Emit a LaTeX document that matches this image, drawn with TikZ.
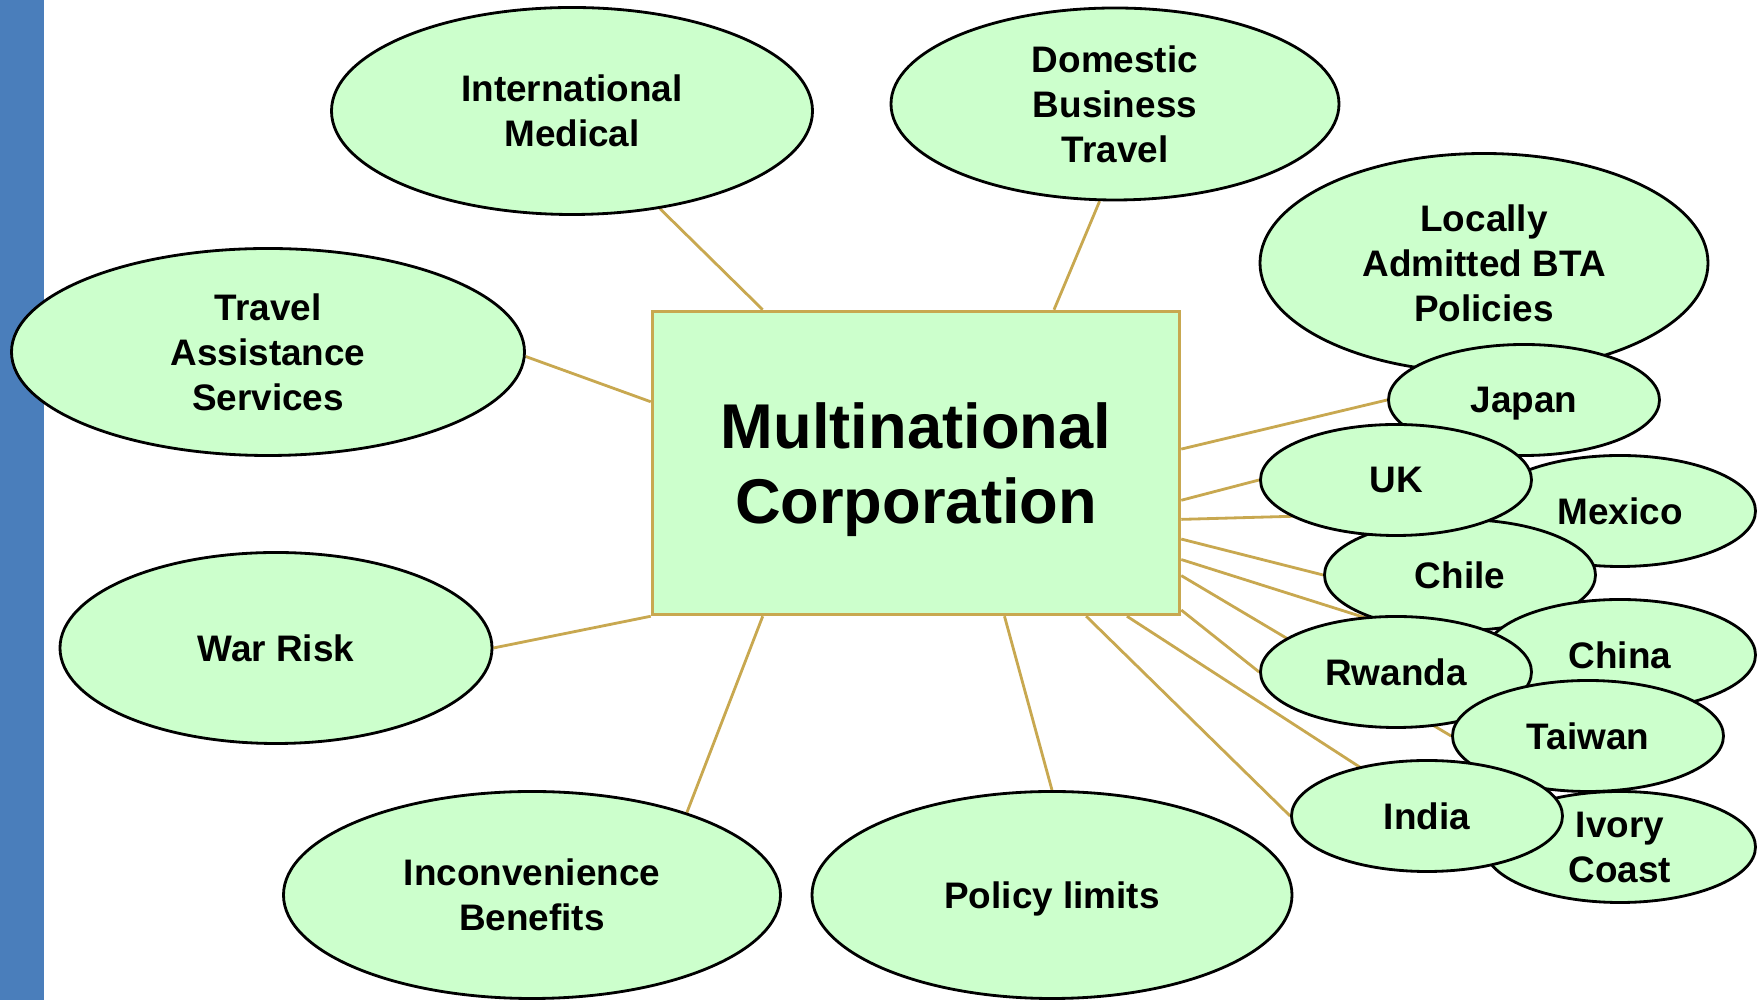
\documentclass[tikz,border=0pt]{standalone}
\usepackage{fontspec}
\setmainfont{Liberation Sans}
\usepackage{xcolor}
\usetikzlibrary{shapes,arrows,positioning,backgrounds}
\definecolor{leaf}{RGB}{204,255,204}
\definecolor{linktan}{RGB}{200,168,80}
\definecolor{barblue}{RGB}{74,126,187}
\tikzstyle{rec} = [ rectangle, minimum width=5.27cm, minimum height=3.03cm, align=center, text depth=0pt, draw=linktan, fill=leaf, line width=1pt, font=\fontsize{18}{21.5}\selectfont\bfseries]
\tikzstyle{bub} = [ ellipse, draw=black, fill=leaf, align=center, text depth=0pt, inner sep=0pt, line width=0.8pt, font=\fontsize{10.5}{12.8}\selectfont\bfseries]
\tikzstyle{cty} = [ bub, minimum width=2.71cm, minimum height=1.11cm]

\begin{document}
\begin{tikzpicture}[link/.style={draw=linktan, line width=0.8pt}]
          \useasboundingbox (0,0) rectangle (17.63,-10);
          \fill[barblue] (0,0) rectangle (0.44,-10);
          % outer ring
          \node (Locally) [bub, minimum width=4.48cm, minimum height=2.19cm] at (14.84,-2.63) {Locally\\Admitted BTA\\Policies};
          \node (IntMed) [bub, minimum width=4.81cm, minimum height=2.07cm] at (5.72,-1.11) {International\\Medical};
          \node (Domestic) [bub, minimum width=4.48cm, minimum height=1.92cm] at (11.15,-1.04) {Domestic\\Business\\Travel};
          \node (Travel) [bub, minimum width=5.13cm, minimum height=2.07cm] at (2.68,-3.52) {Travel\\Assistance\\Services};
          \node (War) [bub, minimum width=4.32cm, minimum height=1.91cm] at (2.76,-6.48) {War Risk};
          \node (Inconv) [bub, minimum width=4.97cm, minimum height=2.07cm] at (5.32,-8.95) {Inconvenience\\Benefits};
          \node (Policy) [bub, minimum width=4.80cm, minimum height=2.07cm] at (10.52,-8.95) {Policy limits};
          \node (Corp) [rec] at (9.16,-4.63) {Multinational\\Corporation};
          % countries
          \node (Japan) [cty] at (15.24,-4.00) {Japan};
          \node (Mexico) [cty] at (16.20,-5.11) {Mexico};
          \node (Chile) [cty] at (14.60,-5.75) {Chile};
          \node (UK) [cty] at (13.96,-4.80) {UK};
          \node (China) [cty] at (16.20,-6.55) {China};
          \node (Rwanda) [cty] at (13.96,-6.72) {Rwanda};
          \node (Ivory) [cty] at (16.20,-8.47) {Ivory\\Coast};
          \node (Taiwan) [cty] at (15.88,-7.36) {Taiwan};
          \node (India) [cty] at (14.27,-8.16) {India};

          \begin{scope}[on background layer]
           \path
            (IntMed.-48) edge[link] (Corp.135)
            (Domestic.-99) edge[link] (Corp.48)
            (Travel.-1) edge[link] (Corp.167)
            (War.east) edge[link] (Corp.south west)
            (Inconv.28) edge[link] (Corp.-135)
            (Policy.north) edge[link] (Corp.-60)
            (Corp.3) edge[link] (Japan.west)
            (Corp.-8) edge[link] (UK.west)
            (Corp.-12) edge[link] (Mexico.west)
            (Corp.-16) edge[link] (Chile.west)
            (Corp.-20) edge[link] (China.west)
            (Corp.-23) edge[link] (Taiwan.west)
            (Corp.-29) edge[link] (Rwanda.west)
            (Corp.-36) edge[link] (Ivory.west)
            (Corp.-42) edge[link] (India.west);
          \end{scope}
         \end{tikzpicture}
\end{document}
